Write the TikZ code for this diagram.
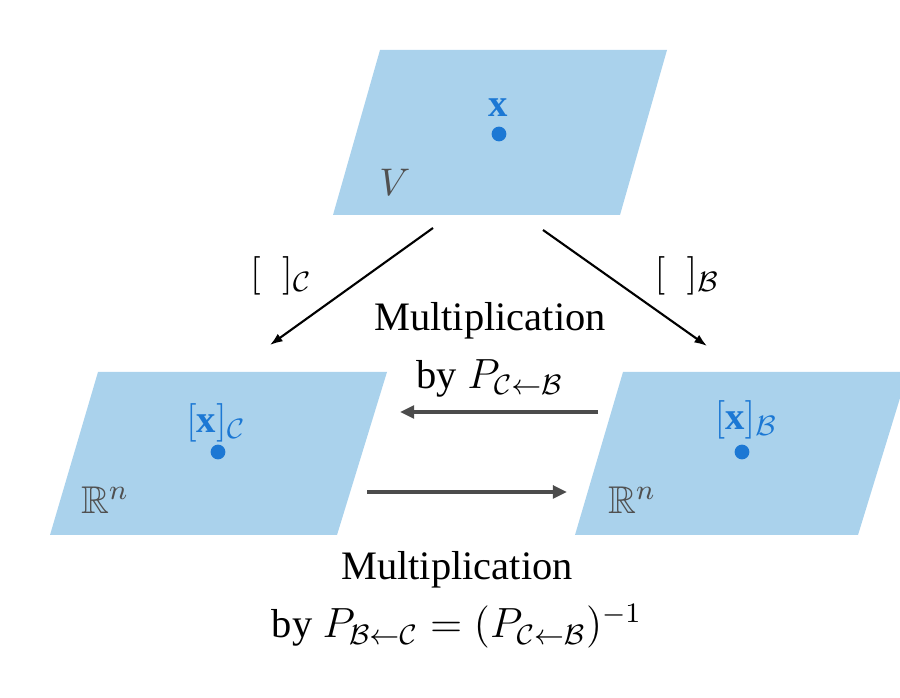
\documentclass[tikz,border=0pt]{standalone}
\usepackage{amssymb}
\usepackage{fontspec}
\setmainfont{Liberation Serif}
\usetikzlibrary{arrows.meta}
\definecolor{planeblue}{RGB}{170,210,236}
\definecolor{vecblue}{RGB}{28,120,212}
\definecolor{spacegray}{RGB}{80,80,80}
\tikzset{
  plane/.style={fill=planeblue},
  point/.style={circle, fill=vecblue, inner sep=0pt, minimum size=4.2pt},
  veclabel/.style={text=vecblue, font=\fontsize{11}{13}\selectfont},
  spacelabel/.style={text=spacegray, font=\fontsize{11}{13}\selectfont},
  maplabel/.style={font=\fontsize{11}{13}\selectfont},
  caption/.style={align=center, font=\fontsize{11.5}{16.5}\selectfont},
  maparrow/.style={-{Latex[length=3.6pt,width=2.6pt]}, line width=0.6pt},
  multarrow/.style={-{Triangle[length=4pt,width=3.6pt]}, line width=1pt, black!70},
}

\begin{document}
\begin{tikzpicture}[x=0.01cm, y=-0.01cm]
  \useasboundingbox (0,0) rectangle (900,698);
  \clip (0,0) rectangle (900,698);
  \fill[plane] (333,215) -- (620,215) -- (667,50) -- (380,50) -- cycle;
  \fill[plane] (50,535) -- (337,535) -- (387,372) -- (98,372) -- cycle;
  \fill[plane] (575,535) -- (858,535) -- (908,372) -- (623,372) -- cycle;

  \node[point] (x) at (499,134) {};
  \node[veclabel] (xlab) at (498,108) {$\mathbf{x}$};
  \node[spacelabel] (V) at (395,182) {$V$};

  \node[point] (xC) at (218,452) {};
  \node[veclabel] (xClab) at (216,423) {$[\mathbf{x}]_{\mathcal{C}}$};
  \node[spacelabel] (RC) at (105,500) {$\mathbb{R}^n$};

  \node[point] (xB) at (742,452) {};
  \node[veclabel] (xBlab) at (746,420) {$[\mathbf{x}]_{\mathcal{B}}$};
  \node[spacelabel] (RB) at (632,500) {$\mathbb{R}^n$};

  \coordinate (Vout1) at (433,228);
  \coordinate (Vout2) at (543,230);
  \coordinate (RCin) at (270,345);
  \coordinate (RBin) at (707,346);
  \coordinate (RBout) at (598,412);
  \coordinate (RCin2) at (400,412);
  \coordinate (RCout) at (367,492);
  \coordinate (RBin2) at (567,492);

  \draw[maparrow] (Vout1) -- (RCin);
  \draw[maparrow] (Vout2) -- (RBin);
  \draw[multarrow] (RBout) -- (RCin2);
  \draw[multarrow] (RCout) -- (RBin2);

  \node[maplabel] (mapC) at (281,276) {$[\hspace{0.55em}]_{\mathcal{C}}$};
  \node[maplabel] (mapB) at (687,276) {$[\hspace{0.55em}]_{\mathcal{B}}$};
  \node[caption] (multCB) at (490,350) {Multiplication\\by $P_{\mathcal{C}\leftarrow\mathcal{B}}$};
  \node[caption] (multBC) at (457,600) {Multiplication\\by $P_{\mathcal{B}\leftarrow\mathcal{C}} = (P_{\mathcal{C}\leftarrow\mathcal{B}})^{-1}$};
\end{tikzpicture}
\end{document}
